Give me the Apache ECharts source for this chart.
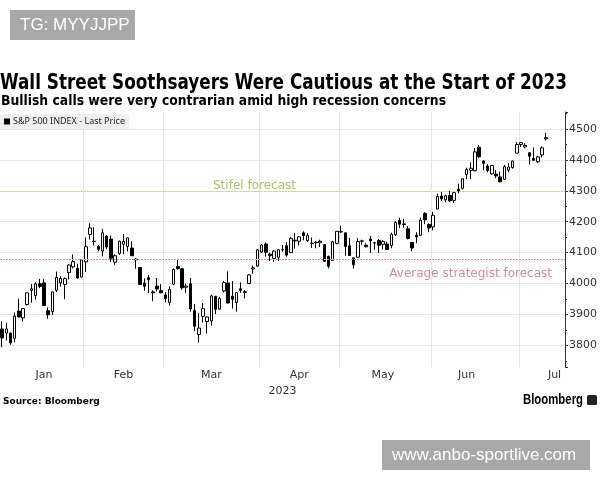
<!DOCTYPE html>
<html>
<head>
<meta charset="utf-8">
<script src="https://cdn.jsdelivr.net/npm/echarts@6/dist/echarts.min.js"></script>
<style>html,body{margin:0;padding:0;background:#fff;}#c{width:600px;height:480px;}</style>
</head>
<body>
<div id="c"></div>
<script>
// ---- Data (S&P 500 daily OHLC) ----
const dates = [
'2023-01-03','2023-01-04','2023-01-05','2023-01-06','2023-01-09','2023-01-10','2023-01-11','2023-01-12','2023-01-13','2023-01-17','2023-01-18','2023-01-19','2023-01-20','2023-01-23','2023-01-24','2023-01-25','2023-01-26','2023-01-27','2023-01-30','2023-01-31',
'2023-02-01','2023-02-02','2023-02-03','2023-02-06','2023-02-07','2023-02-08','2023-02-09','2023-02-10','2023-02-13','2023-02-14','2023-02-15','2023-02-16','2023-02-17','2023-02-21','2023-02-22','2023-02-23','2023-02-24','2023-02-27','2023-02-28',
'2023-03-01','2023-03-02','2023-03-03','2023-03-06','2023-03-07','2023-03-08','2023-03-09','2023-03-10','2023-03-13','2023-03-14','2023-03-15','2023-03-16','2023-03-17','2023-03-20','2023-03-21','2023-03-22','2023-03-23','2023-03-24','2023-03-27','2023-03-28','2023-03-29','2023-03-30','2023-03-31',
'2023-04-03','2023-04-04','2023-04-05','2023-04-06','2023-04-10','2023-04-11','2023-04-12','2023-04-13','2023-04-14','2023-04-17','2023-04-18','2023-04-19','2023-04-20','2023-04-21','2023-04-24','2023-04-25','2023-04-26','2023-04-27','2023-04-28',
'2023-05-01','2023-05-02','2023-05-03','2023-05-04','2023-05-05','2023-05-08','2023-05-09','2023-05-10','2023-05-11','2023-05-12','2023-05-15','2023-05-16','2023-05-17','2023-05-18','2023-05-19','2023-05-22','2023-05-23','2023-05-24','2023-05-25','2023-05-26','2023-05-30','2023-05-31',
'2023-06-01','2023-06-02','2023-06-05','2023-06-06','2023-06-07','2023-06-08','2023-06-09','2023-06-12','2023-06-13','2023-06-14','2023-06-15','2023-06-16','2023-06-20','2023-06-21','2023-06-22','2023-06-23','2023-06-26','2023-06-27','2023-06-28','2023-06-29','2023-06-30',
'2023-07-03','2023-07-05','2023-07-06','2023-07-07','2023-07-10','2023-07-11','2023-07-12'
];
// empty trading days shown at the right end of the axis
const padDates = ['2023-07-13','2023-07-14','2023-07-17','2023-07-18'];

const open = [
3853,3840,3840,3823,3911,3889,3932,3978,3961,3999,4002,3912,3909,3978,4002,3997,4036,4054,4049,4021,
4070,4159,4137,4120,4105,4153,4144,4069,4097,4127,4120,4115,4077,4052,4002,4019,3973,3992,3977,
3963,3939,3998,4055,4048,3988,3999,3913,3835,3894,3877,3879,3959,3917,3976,4002,3959,3939,3983,3974,4000,4047,4056,
4102,4128,4095,4081,4085,4110,4122,4100,4140,4137,4164,4139,4130,4132,4132,4126,4088,4075,4130,
4167,4164,4122,4083,4085,4137,4124,4144,4132,4139,4127,4128,4123,4158,4204,4191,4177,4133,4156,4156,4227,4191,
4183,4241,4283,4271,4285,4269,4305,4308,4353,4366,4365,4441,4396,4380,4355,4354,4345,4337,4367,4375,4422,
4450,4442,4423,4405,4394,4416,4468
];
const high = [
3878,3873,3840,3906,3951,3920,3970,3998,4004,4015,4014,3923,3973,4039,4024,4020,4062,4094,4064,4077,
4149,4195,4182,4125,4177,4157,4156,4094,4139,4160,4148,4137,4082,4052,4017,4028,3978,4018,3998,
3972,3991,4048,4078,4050,4000,4018,3934,3905,3937,3894,3964,3959,3957,4009,4039,4008,3973,4004,3979,4031,4058,4111,
4128,4133,4100,4107,4110,4124,4134,4150,4163,4152,4169,4163,4149,4138,4142,4126,4090,4138,4170,
4187,4164,4148,4083,4147,4142,4130,4154,4133,4144,4141,4136,4165,4202,4213,4209,4186,4133,4166,4213,4231,4195,
4232,4291,4299,4288,4299,4298,4323,4340,4375,4392,4439,4448,4400,4386,4382,4367,4362,4384,4390,4398,4458,
4456,4454,4423,4440,4413,4444,4488
];
const low = [
3794,3816,3802,3810,3890,3877,3929,3938,3948,3985,3927,3886,3898,3972,3990,3949,4013,4049,4016,4020,
4037,4142,4123,4104,4088,4112,4070,4061,4093,4095,4104,4089,4048,3995,3977,3969,3943,3974,3969,
3939,3928,3995,4045,3980,3970,3909,3846,3809,3874,3838,3864,3901,3917,3971,3936,3919,3909,3970,3952,4000,4032,4056,
4099,4087,4073,4070,4073,4103,4087,4099,4113,4123,4140,4134,4115,4114,4118,4071,4049,4075,4127,
4164,4090,4089,4048,4085,4124,4117,4099,4109,4099,4110,4110,4114,4154,4180,4180,4143,4104,4130,4156,4192,4166,
4172,4241,4267,4263,4264,4261,4292,4304,4338,4338,4363,4407,4367,4360,4352,4341,4328,4335,4360,4372,4422,
4442,4437,4385,4397,4390,4408,4463
];
const close = [
3824,3853,3808,3895,3892,3919,3970,3983,3999,3991,3929,3899,3973,4020,4017,4016,4060,4071,4018,4077,
4119,4180,4136,4111,4164,4118,4082,4090,4137,4136,4148,4090,4079,3997,3991,4012,3970,3982,3970,
3951,3981,4046,4048,3986,3992,3918,3862,3856,3919,3892,3960,3917,3952,4003,3937,3949,3971,3978,3971,4028,4051,4109,
4125,4101,4090,4105,4109,4109,4092,4146,4138,4151,4155,4155,4130,4134,4137,4072,4056,4135,4169,
4168,4120,4091,4061,4136,4138,4119,4138,4131,4124,4136,4110,4159,4198,4192,4193,4146,4115,4151,4205,4206,4180,
4221,4282,4274,4284,4268,4294,4299,4339,4369,4373,4426,4410,4389,4366,4382,4348,4329,4378,4377,4396,4450,
4456,4447,4412,4399,4410,4439,4472
];

const forecasts = [
  {name: 'Stifel forecast', value: 4300},
  {name: 'Average strategist forecast', value: 4078}
];

// month tick labels: [label date, text]
const monthLabels = [
  ['2023-01-18','Jan'],['2023-02-14','Feb'],['2023-03-16','Mar'],['2023-04-17','Apr'],
  ['2023-05-15','May'],['2023-06-13','Jun'],['2023-07-14','Jul']
];
const yearLabel = '2023';
const titleText = 'Wall Street Soothsayers Were Cautious at the Start of 2023';
const subtitleText = 'Bullish calls were very contrarian amid high recession concerns';

// ---- Build ----
const cats = dates.concat(padDates);
const ohlc = dates.map((d,i)=>[open[i], close[i], low[i], high[i]]);
const labelMap = {};
monthLabels.forEach(([d,t])=>labelMap[d]=t);

const mctx = document.createElement('canvas').getContext('2d');
function fitScale(text, font, target) {
  mctx.font = font;
  return target / mctx.measureText(text).width;
}
const TF = 'bold 21px "DejaVu Sans", sans-serif';
const SF = 'bold 14px "DejaVu Sans", sans-serif';
const BF = 'bold 14px "Liberation Sans", sans-serif';

const chart = echarts.init(document.getElementById('c'), null, {renderer:'canvas'});
const AX = '"DejaVu Sans", sans-serif';

function forecastSeries(f, lineColor, textColor, position, distance) {
  return {
    name: f.name, type: 'line', data: [], silent: true,
    markLine: {
      silent: true, symbol: 'none', animation: false,
      lineStyle: {color: lineColor, type: [2, 1], width: 1.2, opacity: 1},
      label: {show: true, formatter: f.name, position: position, distance: distance,
              color: textColor, fontSize: 12, fontFamily: AX},
      data: [{yAxis: f.value}]
    }
  };
}

chart.setOption({
  animation: false,
  backgroundColor: '#fff',
  legend: {
    left: 0, top: 114, padding: [3,4,3,4],
    backgroundColor: '#efefef',
    itemWidth: 6, itemHeight: 6, itemGap: 3,
    textStyle: {fontSize: 9, color: '#222', fontFamily: '"Noto Sans", sans-serif', padding: [0,0,0,-2]},
    data: [{name: 'S&P 500 INDEX - Last Price', icon: 'rect', itemStyle: {color: '#000', borderWidth: 0}}]
  },
  grid: {left: -3, right: 29.25, top: 112, bottom: 113, containLabel: false},
  xAxis: {
    type: 'category', data: cats, boundaryGap: true,
    axisLine: {show: false}, axisTick: {show: false},
    name: yearLabel, nameLocation: 'middle', nameGap: 14,
    nameTextStyle: {fontSize: 11, color: '#333', fontFamily: AX},
    axisLabel: {
      interval: (i, v) => labelMap[v] !== undefined,
      formatter: (v) => labelMap[v] || '',
      fontSize: 11, color: '#333', margin: 3, fontFamily: AX
    },
    splitLine: {
      show: true,
      interval: (i, v) => i > 0 && i < cats.length && cats[i].slice(0,7) !== cats[i-1].slice(0,7),
      lineStyle: {color: '#e6e6e6', width: 1}
    }
  },
  yAxis: {
    type: 'value', position: 'right', min: 3730, max: 4555, splitNumber: 8, scale: true,
    axisLine: {show: true, lineStyle: {color: '#333', width: 1}},
    axisTick: {show: true, length: 3, lineStyle: {color: '#333'}},
    minorTick: {show: true, splitNumber: 2, length: 2, lineStyle: {color: '#333'}},
    axisLabel: {fontSize: 11, color: '#333', margin: 4, showMinLabel: false, showMaxLabel: false,
                fontFamily: AX, formatter: (v) => String(v)},
    splitLine: {show: true, showMinLine: false, showMaxLine: false, lineStyle: {color: '#e6e6e6', width: 1}}
  },
  series: [
    forecastSeries(forecasts[0], '#c6da6a', '#a9c263', 'insideStartTop', [213, -1]),
    forecastSeries(forecasts[1], '#d88a98', '#d28c9f', 'insideEndBottom', [13, 8]),
    {
      name: 'S&P 500 INDEX - Last Price',
      type: 'candlestick',
      data: ohlc,
      barWidth: 3,
      itemStyle: {color: '#fff', color0: '#000', borderColor: '#000', borderColor0: '#000', borderWidth: 1}
    }
  ],
  graphic: [
    {type: 'text', x: 0, y: 83.5, scaleX: fitScale(titleText, TF, 567),
     style: {text: titleText, fill: '#000', font: TF, verticalAlign: 'middle'}},
    {type: 'text', x: 1, y: 101.5, scaleX: fitScale(subtitleText, SF, 445),
     style: {text: subtitleText, fill: '#000', font: SF, verticalAlign: 'middle'}},
    {type: 'rect', x: 10, y: 10, shape: {width: 125, height: 30}, style: {fill: '#a8a8a8'}},
    {type: 'text', x: 20, y: 25, style: {text: 'TG: MYYJJPP', fill: '#fff', font: '17px "Liberation Sans", sans-serif', verticalAlign: 'middle'}},
    {type: 'rect', x: 382, y: 440, shape: {width: 208, height: 30}, style: {fill: '#a8a8a8'}},
    {type: 'text', x: 392, y: 455, style: {text: 'www.anbo-sportlive.com', fill: '#fff', font: '17px "Liberation Sans", sans-serif', verticalAlign: 'middle'}},
    {type: 'text', x: 3, y: 402, style: {text: 'Source: Bloomberg', fill: '#000', font: 'bold 9px "DejaVu Sans", sans-serif', verticalAlign: 'middle'}},
    {type: 'text', x: 523, y: 400, scaleX: fitScale('Bloomberg', BF, 60),
     style: {text: 'Bloomberg', fill: '#000', font: BF, verticalAlign: 'middle'}},
    {type: 'rect', x: 587, y: 395, shape: {width: 10, height: 10, r: 1.5}, style: {fill: '#222'}}
  ]
});
</script>
</body>
</html>
